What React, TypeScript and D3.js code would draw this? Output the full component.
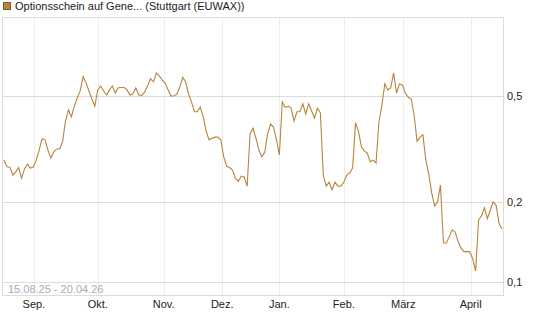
import React from "react";
import * as d3 from "d3";

// one value per trading day, 15.08.25 - 20.04.26
const prices = [
  0.287, 0.271, 0.27, 0.252, 0.259, 0.269, 0.245, 0.266, 0.277, 0.268,
  0.27, 0.287, 0.313, 0.345, 0.342, 0.313, 0.292, 0.308, 0.316, 0.316,
  0.336, 0.403, 0.443, 0.417, 0.458, 0.491, 0.522, 0.59, 0.56, 0.522,
  0.487, 0.458, 0.527, 0.545, 0.522, 0.504, 0.527, 0.545, 0.513, 0.537,
  0.538, 0.538, 0.527, 0.504, 0.508, 0.536, 0.504, 0.502, 0.517, 0.545,
  0.58, 0.565, 0.61, 0.595, 0.574, 0.56, 0.527, 0.5, 0.5, 0.508,
  0.54, 0.587, 0.565, 0.508, 0.475, 0.436, 0.436, 0.454, 0.417, 0.369,
  0.342, 0.347, 0.35, 0.35, 0.342, 0.295, 0.272, 0.269, 0.263, 0.245,
  0.239, 0.25, 0.248, 0.229, 0.36, 0.378, 0.347, 0.313, 0.295, 0.307,
  0.36, 0.392, 0.382, 0.342, 0.3, 0.475, 0.452, 0.458, 0.45, 0.402,
  0.436, 0.436, 0.467, 0.428, 0.467, 0.439, 0.413, 0.45, 0.432, 0.252,
  0.229, 0.237, 0.222, 0.237, 0.229, 0.229, 0.237, 0.252, 0.257, 0.268,
  0.396, 0.369, 0.322, 0.31, 0.305, 0.283, 0.287, 0.28, 0.4, 0.462,
  0.555, 0.527, 0.536, 0.61, 0.513, 0.555, 0.55, 0.513, 0.494, 0.487,
  0.424, 0.338, 0.35, 0.357, 0.287, 0.254, 0.216, 0.193, 0.2, 0.231,
  0.14, 0.14, 0.148, 0.157, 0.154, 0.142, 0.134, 0.13, 0.13, 0.13,
  0.122, 0.11, 0.171, 0.177, 0.19, 0.173, 0.186, 0.2, 0.194, 0.166,
  0.158,
];

const monthLabels = ["Sep.", "Okt.", "Nov.", "Dez.", "Jan.", "Feb.", "März", "April"];
const monthIndex = [10.2, 32, 54.5, 74.5, 94, 116, 136.3, 159.3];
const yTicks = [0.1, 0.2, 0.5];
const yTickLabels = ["0,1", "0,2", "0,5"];

const title = "Optionsschein auf Gene... (Stuttgart (EUWAX))";
const period = "15.08.25 - 20.04.26";

const App = () => {
  const width = 545;
  const height = 327;
  const left = 3, right = 503, top = 17, bottom = 295;

  const x = d3.scaleLinear().domain([0, prices.length - 1]).range([left + 1, right - 1]);
  const y = d3.scaleLog().domain([0.0893, 0.99]).range([bottom, top]);

  const line = d3.line<number>()
    .x((d, i) => x(i))
    .y(d => y(d));

  const font = "'Liberation Sans', Arial, sans-serif";

  return (
    <svg width={width} height={height} style={{ position: "absolute", left: 0, top: 0 }} fontFamily={font}>
      <rect x={0} y={0} width={width} height={height} fill="#fff" />
      {/* legend */}
      <rect x={3.5} y={2.5} width={7} height={7} fill="#b8843c" stroke="#7a5a2a" />
      <text x={15} y={10} fontSize={11} fill="#222">{title}</text>

      {/* vertical grid */}
      {monthIndex.map((m, i) => (
        <line key={"v" + i} x1={Math.round(x(m)) + 0.5} x2={Math.round(x(m)) + 0.5} y1={top} y2={bottom} stroke="#eeeeee" />
      ))}
      {/* horizontal grid */}
      {yTicks.map((t, i) => (
        <line key={"h" + i} x1={left} x2={right} y1={Math.round(y(t)) + 0.5} y2={Math.round(y(t)) + 0.5} stroke="#dcdcdc" />
      ))}

      <rect x={left - 0.5} y={top + 0.5} width={right - left + 1} height={bottom - top} fill="none" stroke="#dcdcdc" />

      <path d={line(prices) || ""} fill="none" stroke="#b8843c" strokeWidth={1.1} />

      <text x={8} y={293} fontSize={11} fill="#a3abb8">{period}</text>

      {monthLabels.map((m, i) => (
        <text key={"m" + i} x={x(monthIndex[i])} y={308} fontSize={11} fill="#222" textAnchor="middle">{m}</text>
      ))}
      {yTickLabels.map((t, i) => (
        <text key={"y" + i} x={507} y={y(yTicks[i]) + 4} fontSize={11} fill="#222">{t}</text>
      ))}
    </svg>
  );
};

export default App;
